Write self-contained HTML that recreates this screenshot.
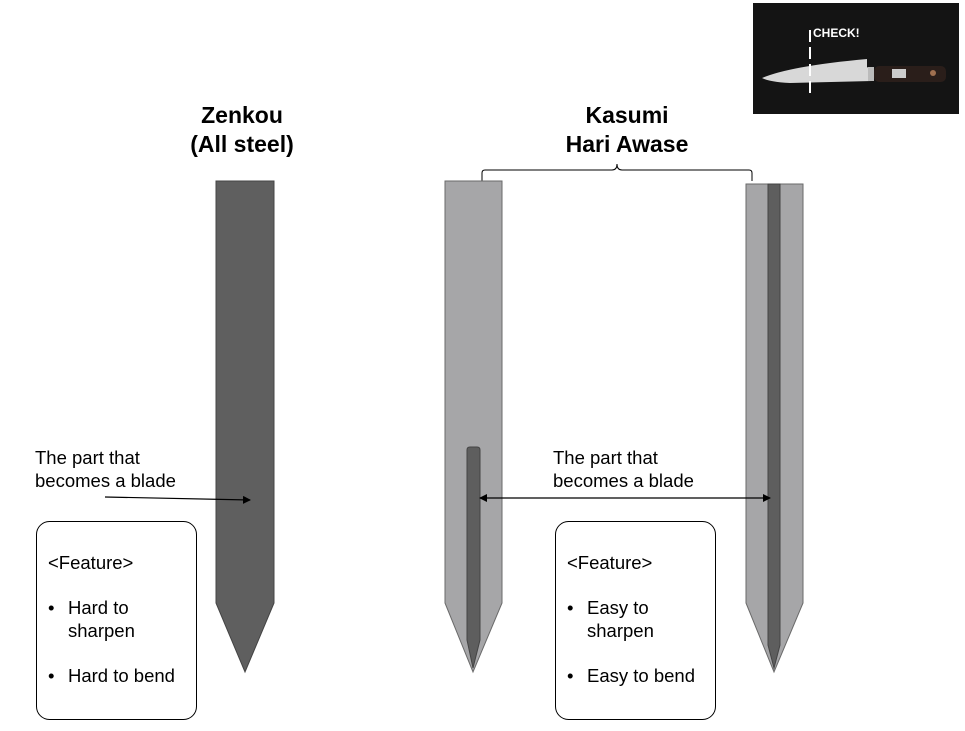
<!DOCTYPE html>
<html><head><style>
body{margin:0;background:#fff;}
svg text{font-family:"Liberation Sans",sans-serif;}
</style></head><body>
<svg width="965" height="726" viewBox="0 0 965 726" xmlns="http://www.w3.org/2000/svg">
<defs>
<marker id="ah" markerWidth="8" markerHeight="8" refX="7" refY="4" orient="auto" markerUnits="userSpaceOnUse"><path d="M0,0 L8,4 L0,8 z" fill="#000"/></marker>
<marker id="as" markerWidth="8" markerHeight="8" refX="1" refY="4" orient="auto" markerUnits="userSpaceOnUse"><path d="M8,0 L0,4 L8,8 z" fill="#000"/></marker>
</defs>
<rect x="753" y="3" width="206" height="111" fill="#141414"/>
<path d="M762,78 Q790,66 867,59 L867,67 L872,70 L872,81 L790,83 Q770,82 762,78z" fill="#d8d8d8"/>
<rect x="868" y="67" width="6" height="14" fill="#bbb"/>
<rect x="874" y="66" width="72" height="16" rx="5" fill="#2a1e1a"/>
<rect x="892" y="69" width="14" height="9" fill="#ccc"/>
<circle cx="933" cy="73" r="3" fill="#a07050"/>
<line x1="810" y1="30" x2="810" y2="98" stroke="#fff" stroke-width="2" stroke-dasharray="12,5"/>
<text x="813" y="37" font-size="12" font-weight="bold" fill="#fff">CHECK!</text>
<text x="242" y="123" font-size="23" font-weight="bold" text-anchor="middle">Zenkou</text>
<text x="242" y="152" font-size="23" font-weight="bold" text-anchor="middle">(All steel)</text>
<text x="627" y="123" font-size="23" font-weight="bold" text-anchor="middle">Kasumi</text>
<text x="627" y="152" font-size="23" font-weight="bold" text-anchor="middle">Hari Awase</text>
<path d="M482,181 L482,173 Q482,170 485,170 L612,170 Q617,170 617,164 Q617,170 622,170 L749,170 Q752,170 752,173 L752,181" fill="none" stroke="#000" stroke-width="1"/>
<path d="M216,181 L274,181 L274,603 L245,672 L216,603z" fill="#5f5f5f" stroke="#444" stroke-width="1"/>
<path d="M445,181 L502,181 L502,603 L473,672 L445,603z" fill="#a6a6a8" stroke="#6a6a6a" stroke-width="1"/>
<path d="M467,450 Q467,447 470,447 L477,447 Q480,447 480,450 L480,640 L473,668 L467,640z" fill="#5e5e5e" stroke="#444" stroke-width="1"/>
<path d="M746,184 L803,184 L803,603 L774,672 L746,603z" fill="#a6a6a8" stroke="#6a6a6a" stroke-width="1"/>
<path d="M768,184 L780,184 L780,645 L774,668 L768,645z" fill="#5e5e5e" stroke="#444" stroke-width="1"/>
<text x="35" y="464" font-size="18.5">The part that</text>
<text x="35" y="487" font-size="18.5">becomes a blade</text>
<line x1="105" y1="497" x2="250" y2="500" stroke="#000" stroke-width="1.2" marker-end="url(#ah)"/>
<text x="553" y="464" font-size="18.5">The part that</text>
<text x="553" y="487" font-size="18.5">becomes a blade</text>
<line x1="480" y1="498" x2="770" y2="498" stroke="#000" stroke-width="1.2" marker-start="url(#as)" marker-end="url(#ah)"/>
<rect x="36.5" y="521.5" width="160" height="198" rx="13" fill="#fff" stroke="#000" stroke-width="1"/>
<text x="48" y="569" font-size="18.5">&lt;Feature&gt;</text>
<text x="48" y="614" font-size="18.5">•</text><text x="68" y="614" font-size="18.5">Hard to</text>
<text x="68" y="637" font-size="18.5">sharpen</text>
<text x="48" y="682" font-size="18.5">•</text><text x="68" y="682" font-size="18.5">Hard to bend</text>
<rect x="555.5" y="521.5" width="160" height="198" rx="13" fill="#fff" stroke="#000" stroke-width="1"/>
<text x="567" y="569" font-size="18.5">&lt;Feature&gt;</text>
<text x="567" y="614" font-size="18.5">•</text><text x="587" y="614" font-size="18.5">Easy to</text>
<text x="587" y="637" font-size="18.5">sharpen</text>
<text x="567" y="682" font-size="18.5">•</text><text x="587" y="682" font-size="18.5">Easy to bend</text>
</svg>
</body></html>
